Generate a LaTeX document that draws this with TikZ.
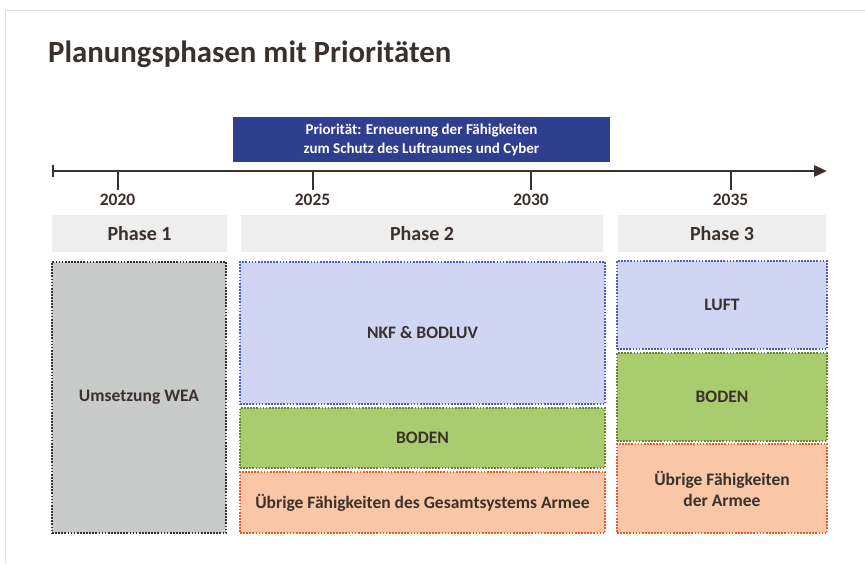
\documentclass[tikz,border=0pt]{standalone}
\usepackage{fontspec}
\setmainfont{Carlito}
\usetikzlibrary{arrows.meta,positioning}

\definecolor{txt}{HTML}{3A302C}
\definecolor{hdrgray}{HTML}{EEEEEE}
\definecolor{wea}{HTML}{C9CBCB}
\definecolor{weaedge}{HTML}{3D3232}
\definecolor{luft}{HTML}{CFD5F3}
\definecolor{luftedge}{HTML}{4E5DBE}
\definecolor{boden}{HTML}{A9CD6E}
\definecolor{bodenedge}{HTML}{6A8632}
\definecolor{rest}{HTML}{F9C7A5}
\definecolor{restedge}{HTML}{E85C34}
\definecolor{prio}{HTML}{2F3F8F}
\definecolor{frame}{HTML}{E2DCDC}

\begin{document}
\begin{tikzpicture}[x=1pt,y=-1pt,
  field/.style={draw,line width=2pt,dash pattern=on 1.7pt off 1.4pt,
    inner sep=0pt,outer sep=0pt,align=center,text=txt,
    font=\fontsize{17.5}{21}\selectfont\bfseries},
  phasehdr/.style={fill=hdrgray,inner sep=0pt,outer sep=0pt,minimum height=37pt,
    text=txt,font=\fontsize{20}{24}\selectfont\bfseries},
  year/.style={text=txt,inner sep=0pt,font=\fontsize{17.5}{21}\selectfont\bfseries},
  axis/.style={draw=txt,line width=2.8pt,{Bar[width=12pt,line width=2pt]}-{Triangle[length=13pt,width=11pt]}},
  tickline/.style={draw=txt,line width=2pt}]

  \useasboundingbox (0,0) rectangle (865,563);
  \draw[frame,line width=0.8pt] (5,563) -- (5,10) -- (865,10);

  % title
  \node[anchor=base west,inner sep=0pt,text=txt,font=\fontsize{30.8}{36}\selectfont\bfseries]
    (title) at (48,62) {Planungsphasen mit Prioritäten};

  % priority banner
  \node[fill=prio,text=white,inner sep=0pt,minimum width=377pt,minimum height=45pt,
    align=center,font=\fontsize{15}{19}\selectfont\bfseries]
    (prio) at (421.5,139.5) {Priorität: Erneuerung der Fähigkeiten\\zum Schutz des Luftraumes und Cyber};

  % time axis
  \coordinate (start) at (52,171);
  \coordinate (end) at (827,171);
  \draw[axis] (start) -- (end);
  \foreach \yr/\xx in {2020/117.5,2025/312.5,2030/531,2035/730.5}{
    \coordinate (tk\yr) at (\xx,171);
    \draw[tickline] (tk\yr) -- ++(0,19);
    \node[year] (yr\yr) at (\xx,200) {\yr};
  }

  % phase headers
  \node[phasehdr,minimum width=175pt] (ph1) at (139.5,233.5) {Phase 1};
  \node[phasehdr,minimum width=362pt] (ph2) at (422,233.5) {Phase 2};
  \node[phasehdr,minimum width=208pt] (ph3) at (722,233.5) {Phase 3};

  % phase 1
  \node[field,fill=wea,draw=weaedge,minimum width=174pt,minimum height=271pt]
    (wea) at (139,397.5) {Umsetzung WEA};

  % phase 2
  \node[field,fill=luft,draw=luftedge,minimum width=365pt,minimum height=142pt]
    (nkf) at (422.5,333) {NKF \& BODLUV};
  \node[field,fill=boden,draw=bodenedge,minimum width=365pt,minimum height=60pt]
    (boden2) at (422.5,438) {BODEN};
  \node[field,fill=rest,draw=restedge,minimum width=365pt,minimum height=61pt]
    (rest2) at (422.5,502.5) {Übrige Fähigkeiten des Gesamtsystems Armee};

  % phase 3
  \node[field,fill=luft,draw=luftedge,minimum width=210pt,minimum height=88pt]
    (luft3) at (722,305) {LUFT};
  \node[field,fill=boden,draw=bodenedge,minimum width=210pt,minimum height=88pt]
    (boden3) at (722,397) {BODEN};
  \node[field,fill=rest,draw=restedge,minimum width=210pt,minimum height=89pt]
    (rest3) at (722,488.5) {Übrige Fähigkeiten\\der Armee};

\end{tikzpicture}
\end{document}
